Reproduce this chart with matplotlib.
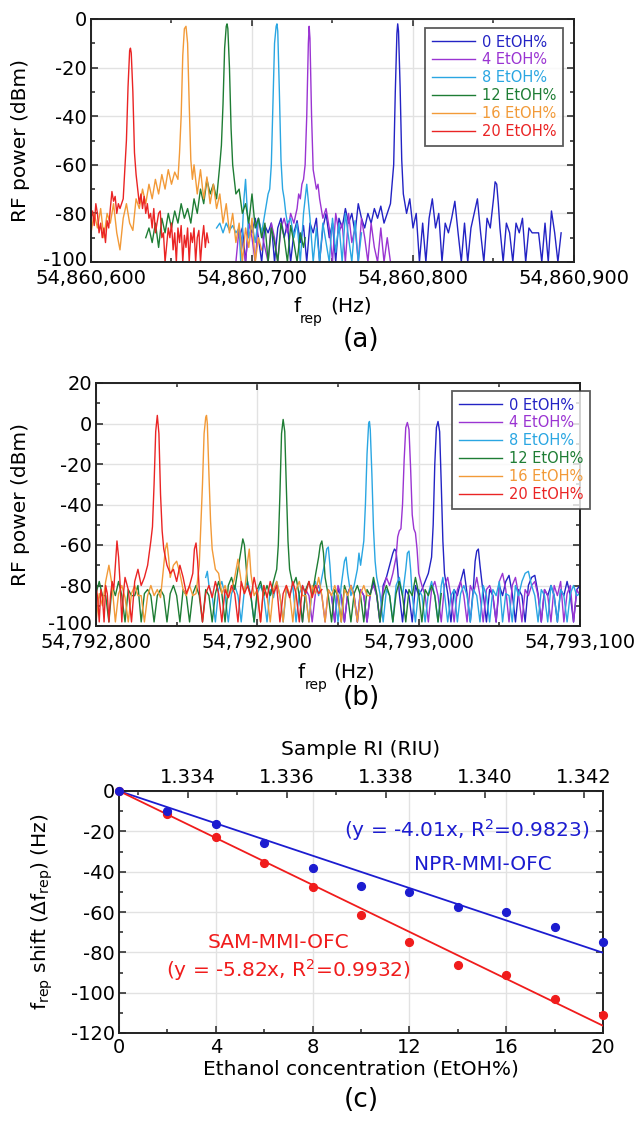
import numpy as np
import matplotlib
matplotlib.use("Agg")
import matplotlib.pyplot as plt
from matplotlib.ticker import FixedLocator, MultipleLocator, FuncFormatter
from matplotlib.transforms import ScaledTranslation

plt.rcParams['font.family'] = ['DejaVu Sans']
plt.rcParams['axes.unicode_minus'] = False
plt.rcParams['mathtext.fontset'] = 'dejavusans'

# ---------------- DATA ----------------
LABELS = ["0 EtOH%", "4 EtOH%", "8 EtOH%", "12 EtOH%", "16 EtOH%", "20 EtOH%"]
COLORS = ["#2323c4", "#9a34d2", "#2aa6e2", "#1e7d34", "#f29a38", "#ea2424"]

# Panel (a): frequency offset from 54,860,000 Hz, RF power in dBm
BASE_A = 54860000
A0_F = [692,694,696,698,700,702,704,706,708,710,712,714,716,718,720,722,724,726,728,730,732,734,736,738,740,742,744,746,748,750,752,754,756,758,760,762,764,766,768,770,772,774,776,778,780,782,784,786,788,789,790,790.5,791,792,793,794,796,798,800,802,804,806,808,810,812,814,816,818,820,822,824,826,828,830,832,834,836,838,840,842,844,846,848,850,851,852,853,854,856,858,860,862,864,866,868,870,872,874,876,878,880,882,884,886,888,890,892]
A0_P = [-90,-86,-100,-84,-88,-82,-90,-100,-85,-88,-84,-100,-86,-82,-90,-84,-100,-88,-83,-92,-85,-100,-84,-88,-82,-100,-86,-80,-90,-84,-100,-82,-86,-78,-84,-80,-88,-76,-82,-86,-80,-84,-78,-82,-77,-84,-80,-76,-60,-30,-6,-2,-5,-28,-58,-72,-80,-74,-86,-80,-100,-84,-100,-82,-74,-86,-80,-100,-84,-88,-82,-75,-88,-100,-84,-100,-86,-80,-74,-88,-100,-82,-86,-74,-67,-68,-76,-86,-100,-84,-88,-100,-84,-88,-82,-100,-86,-88,-88,-88,-100,-84,-100,-79,-88,-100,-88]
A4_F = [690,692,694,696,698,700,702,704,706,708,710,712,714,716,718,720,722,724,726,728,729,730,731,732,733,734,735,735.5,736,737,738,739,740,741,742,744,746,748,750,752,754,756,758,760,762,764,766,768,770,772,774,776,778,780,782,784,786]
A4_P = [-100,-86,-92,-100,-84,-90,-100,-82,-88,-94,-100,-84,-90,-100,-86,-82,-88,-80,-84,-78,-72,-74,-68,-66,-60,-40,-10,-3,-8,-40,-62,-66,-70,-68,-74,-82,-78,-86,-100,-80,-88,-84,-100,-80,-92,-86,-100,-82,-90,-100,-84,-94,-100,-86,-100,-90,-100]
A8_F = [678,680,682,684,686,688,690,692,693,694,695,696,697,698,700,702,704,706,708,709,710,711,712,713,714,715,715.5,716,717,718,719,720,721,722,724,726,728,730,732,734,736,738,740,742,744,746,748,750,752,754,756,758,760,762,764,766,768]
A8_P = [-86,-84,-88,-84,-87,-85,-88,-86,-100,-88,-74,-66,-78,-90,-84,-92,-82,-88,-80,-76,-72,-70,-60,-35,-10,-3,-2,-5,-30,-58,-70,-74,-80,-84,-82,-90,-84,-100,-80,-68,-82,-100,-86,-100,-84,-92,-100,-82,-96,-84,-100,-80,-90,-100,-83,-100,-88]
A12_F = [634,636,638,640,642,644,646,648,650,652,654,656,658,660,662,664,666,668,670,672,674,676,678,680,681,682,683,684,684.5,685,686,687,688,689,690,692,694,696,698,700,702,704,706,708,710,712,714,716,718,720,722,724,726,728,730,732,733]
A12_P = [-90,-86,-92,-84,-94,-82,-88,-80,-86,-79,-84,-76,-82,-78,-84,-74,-80,-70,-76,-66,-72,-68,-74,-60,-52,-35,-12,-3,-2,-4,-20,-45,-60,-66,-72,-70,-80,-76,-84,-72,-86,-82,-90,-84,-100,-86,-92,-100,-84,-90,-100,-85,-92,-100,-88,-94,-90]
A16_F = [600,602,604,606,608,610,612,614,616,618,620,622,624,626,628,630,632,634,636,638,640,642,644,646,648,650,652,654,655,656,657,658,659,660,661,662,663,664,666,668,670,672,674,676,678,680,682,684,686,688,690,692,694,696,698,700,702,704,706]
A16_P = [-88,-80,-86,-78,-90,-80,-84,-76,-88,-95,-82,-76,-84,-87,-74,-78,-70,-76,-68,-74,-66,-72,-64,-70,-62,-68,-63,-66,-55,-40,-15,-4,-3,-10,-35,-58,-66,-60,-72,-62,-74,-65,-76,-68,-78,-72,-84,-76,-88,-80,-92,-84,-100,-86,-94,-82,-100,-90,-95]
A20_F = [600,601,602,603,604,605,606,607,608,609,610,611,612,613,614,615,616,617,618,620,621,622,623,624,624.5,625,626,627,628,629,630,631,632,633,634,635,636,637,638,639,640,641,642,643,644,645,646,647,648,649,650,651,652,653,654,655,656,657,658,659,660,661,662,663,664,665,666,667,668,669,670,671,672,673]
A20_P = [-82,-79,-85,-76,-80,-88,-84,-90,-86,-92,-83,-86,-78,-71,-75,-73,-80,-76,-78,-74,-62,-50,-28,-13,-12,-14,-30,-55,-64,-70,-76,-72,-78,-73,-80,-76,-82,-80,-86,-78,-88,-84,-80,-79,-90,-88,-100,-93,-86,-90,-84,-95,-88,-100,-86,-92,-85,-100,-89,-94,-86,-100,-88,-92,-86,-100,-90,-87,-100,-91,-85,-94,-88,-92]

# Panel (b): frequency offset from 54,792,000 Hz, RF power in dBm
BASE_B = 54792000
B0_F = [946,948,950,952,954,956,958,960,962,964,966,968,970,972,974,976,978,980,982,984,985,986,987,988,990,992,994,996,998,1000,1002,1004,1006,1008,1009,1010,1011,1012,1013,1014,1015,1016,1018,1020,1022,1024,1026,1028,1030,1032,1034,1035,1036,1037,1038,1040,1042,1044,1046,1048,1050,1052,1054,1056,1058,1060,1062,1064,1066,1068,1070,1072,1074,1076,1078,1080,1082,1084,1086,1088,1090,1092,1094,1096,1098,1100]
B0_P = [-85,-98,-82,-85,-98,-84,-80,-85,-98,-82,-85,-98,-84,-78,-85,-98,-80,-76,-70,-64,-62,-63,-72,-84,-98,-82,-85,-98,-80,-85,-82,-78,-74,-66,-50,-20,-2,1,-4,-30,-58,-74,-84,-98,-82,-85,-78,-72,-84,-98,-80,-68,-63,-62,-70,-84,-98,-82,-85,-98,-80,-85,-78,-75,-84,-98,-82,-85,-98,-80,-76,-75,-84,-98,-82,-85,-80,-85,-98,-82,-85,-78,-85,-98,-82,-80]
B4_F = [926,928,930,932,934,936,938,940,942,944,946,948,950,952,954,956,958,960,962,964,966,968,970,972,974,976,978,980,982,984,986,987,988,989,990,991,992,993,994,995,996,997,998,999,1000,1002,1004,1006,1008,1010,1012,1014,1016,1018,1020,1022,1024,1026,1028,1030,1032,1034,1036,1038,1040,1042,1044,1046,1048,1050,1052,1054,1056,1058,1060,1062,1064,1066,1068,1070,1072,1074,1076,1078,1080,1082,1084,1086,1088,1090,1092,1094,1096,1098,1100]
B4_P = [-85,-98,-82,-85,-98,-84,-80,-85,-98,-82,-85,-98,-80,-85,-98,-84,-80,-85,-98,-82,-85,-98,-84,-80,-85,-98,-82,-76,-80,-74,-66,-56,-53,-52,-40,-18,-2,0.5,-3,-22,-45,-52,-54,-62,-74,-80,-85,-98,-82,-78,-85,-98,-80,-76,-85,-98,-82,-78,-85,-98,-80,-84,-76,-85,-98,-82,-80,-85,-98,-78,-74,-82,-98,-80,-76,-85,-98,-82,-85,-80,-78,-85,-98,-82,-85,-98,-80,-85,-78,-98,-84,-80,-98,-82,-85]
B8_F = [868,869,870,872,874,876,878,880,882,884,886,888,890,892,894,896,898,900,902,904,906,908,910,912,914,916,918,920,922,924,926,928,930,932,934,936,938,940,942,943,944,945,946,948,950,952,954,955,956,958,960,962,963,964,966,967,968,969,969.5,970,971,972,973,974,976,978,980,982,984,986,988,990,992,993,994,995,996,998,1000,1002,1004,1006,1008,1010,1012,1014,1015,1016,1018,1020,1022,1024,1026,1028,1030,1032,1034,1036,1038,1040,1042,1044,1046,1048,1050,1052,1054,1056,1058,1060,1062,1064,1066,1068,1070,1072,1074,1076,1078,1080,1082,1084,1086,1088,1090,1092,1094,1096,1098,1100]
B8_P = [-76,-73,-80,-85,-98,-82,-78,-85,-98,-84,-80,-85,-98,-82,-78,-85,-98,-84,-80,-85,-98,-82,-86,-78,-85,-98,-82,-85,-80,-98,-84,-80,-85,-98,-82,-78,-85,-76,-68,-62,-61,-70,-82,-85,-98,-80,-68,-66,-74,-85,-80,-72,-64,-70,-58,-40,-15,0,1,-3,-25,-52,-68,-76,-84,-98,-82,-85,-98,-80,-76,-85,-72,-64,-63,-72,-85,-98,-82,-85,-98,-84,-78,-85,-98,-80,-76,-84,-98,-85,-82,-98,-84,-80,-85,-98,-82,-85,-98,-80,-85,-98,-82,-85,-78,-98,-84,-85,-98,-80,-85,-78,-74,-73,-80,-85,-98,-82,-85,-98,-80,-85,-98,-82,-85,-98,-84,-80,-85,-84]
B12_F = [800,802,804,806,808,810,812,814,816,818,820,822,824,826,828,830,832,834,836,838,840,842,844,846,848,850,852,854,856,858,860,862,864,866,868,870,872,874,876,878,880,882,884,886,888,890,891,892,893,894,896,898,900,902,904,906,908,910,912,913,914,915,916,917,918,919,920,922,924,926,928,930,932,934,936,938,939,940,941,942,944,946,948,950,952,954,956,958,960,962,964,966,968,970,972,974,976,978,980,982,984,986,988,990,992,994,996,998,1000,1002,1004,1006,1008,1010,1012,1014]
B12_P = [-84,-78,-85,-85,-98,-80,-85,-78,-85,-98,-82,-85,-85,-80,-98,-84,-82,-85,-98,-85,-82,-85,-98,-84,-80,-85,-98,-82,-85,-98,-84,-80,-85,-98,-82,-85,-98,-84,-78,-84,-98,-80,-76,-82,-72,-62,-57,-60,-70,-80,-85,-98,-82,-78,-85,-80,-85,-78,-72,-60,-35,-5,2,-4,-32,-58,-72,-80,-76,-85,-98,-82,-78,-85,-75,-66,-60,-58,-64,-76,-85,-98,-82,-85,-98,-80,-85,-98,-84,-80,-85,-98,-82,-85,-76,-84,-98,-85,-80,-85,-98,-84,-78,-85,-98,-82,-85,-76,-84,-98,-82,-85,-80,-85,-98,-84]
B16_F = [800,802,804,806,808,810,812,814,816,818,820,822,824,826,828,830,832,834,836,838,840,842,843,844,845,846,848,850,852,854,856,858,860,862,864,865,866,867,868,868.5,869,870,871,872,874,876,878,880,882,884,886,888,890,892,894,895,896,898,900,902,904,906,908,910,912,914,916,918,920,922,924,926,928,930,932,934,936,938,940,942,944,946,948,950,952,954,956,958,960,962,964,966,968,970]
B16_P = [-98,-84,-90,-78,-70,-80,-98,-84,-80,-86,-98,-84,-80,-85,-85,-98,-85,-80,-85,-82,-86,-70,-62,-59,-66,-76,-70,-68,-74,-82,-85,-80,-85,-84,-70,-50,-30,-5,3,4,0,-25,-48,-62,-72,-74,-84,-80,-86,-82,-76,-67,-78,-84,-68,-62,-74,-85,-82,-98,-80,-85,-98,-82,-78,-85,-98,-80,-84,-98,-82,-78,-85,-85,-98,-80,-84,-76,-85,-98,-82,-85,-80,-85,-98,-82,-85,-80,-86,-98,-84,-80,-85,-85]
B20_F = [800,801,802,803,804,805,806,807,808,809,810,811,812,813,814,815,816,817,818,820,822,824,826,828,830,832,833,834,835,836,837,838,839,840,841,842,843,844,846,848,850,852,854,856,858,860,861,862,863,864,866,868,870,872,874,876,878,880,882,884,886,888,890,892,894,896,898,900,902,904,906,908,910,912,914,916,918,920,922,924,926,928,930,932,934,936,938,940]
B20_P = [-80,-86,-98,-82,-86,-98,-80,-84,-98,-85,-78,-82,-70,-58,-66,-80,-98,-84,-76,-82,-98,-78,-72,-80,-76,-70,-64,-58,-51,-30,-4,4,-5,-35,-53,-62,-66,-70,-74,-72,-78,-70,-76,-84,-80,-74,-62,-59,-68,-82,-98,-84,-80,-86,-78,-84,-98,-82,-86,-80,-84,-98,-78,-84,-80,-86,-76,-84,-98,-80,-86,-78,-84,-80,-98,-84,-80,-86,-78,-84,-98,-80,-84,-78,-86,-80,-84,-82]

A_TRACES = [(A0_F, A0_P), (A4_F, A4_P), (A8_F, A8_P), (A12_F, A12_P), (A16_F, A16_P), (A20_F, A20_P)]
B_TRACES = [(B0_F, B0_P), (B4_F, B4_P), (B8_F, B8_P), (B12_F, B12_P), (B16_F, B16_P), (B20_F, B20_P)]

A_XTICKS = [54860600, 54860700, 54860800, 54860900]
B_XTICKS = [54792800, 54792900, 54793000, 54793100]

# Panel (c)
CONC = [0, 2, 4, 6, 8, 10, 12, 14, 16, 18, 20]
NPR_SHIFT = [0, -10, -16.5, -26, -38, -47, -50, -57.5, -60, -67.5, -75]
SAM_SHIFT = [0, -11.5, -23, -35.5, -47.5, -61.5, -75, -86.5, -91, -103, -111]
NPR_SLOPE = -4.01
SAM_SLOPE = -5.82
FIT_X = [0, 20]
RI_AT_ZERO = 1.33261
RI_PER_PCT = 0.000489
RI_TICKS = [1.334, 1.336, 1.338, 1.340, 1.342]

# ---------------- FIGURE ----------------
W, H = 640, 1126
fig = plt.figure(figsize=(W / 100, H / 100), dpi=100)

def box(l, t, r, b):
    return [l / W, 1 - b / H, (r - l) / W, (b - t) / H]

def ftext(x, y, s, **kw):
    fig.text(x / W, 1 - y / H, s, **kw)

TICK_FS = 14
LAB_FS = 14.5
SPINE_C = "#222222"

def style_axes(ax):
    for sp in ax.spines.values():
        sp.set_linewidth(1.4)
        sp.set_color(SPINE_C)
    ax.tick_params(which='both', direction='in', top=True, right=True,
                   labelsize=TICK_FS, width=1.1, color=SPINE_C)
    ax.tick_params(which='major', length=5)
    ax.tick_params(which='minor', length=3)
    ax.tick_params(axis='x', pad=5)
    ax.tick_params(axis='y', pad=3)
    ax.grid(True, which='major', color='#e2e2e2', lw=1.0)
    ax.set_axisbelow(True)

def nudge_bottom_ylabel(ax, dy_px):
    lab = ax.yaxis.get_major_ticks()[0].label1
    lab.set_transform(lab.get_transform() + ScaledTranslation(0, dy_px / 100, fig.dpi_scale_trans))

def spectrum_panel(rect, base, traces, xticks, ylim, yticks, legend_anchor):
    ax = fig.add_axes(rect)
    for (f, p), c, lab in zip(traces, COLORS, LABELS):
        ax.plot(base + np.array(f), p, color=c, lw=1.0, label=lab)
    ax.set_xlim(xticks[0], xticks[-1])
    ax.set_ylim(*ylim)
    ax.xaxis.set_major_locator(FixedLocator(xticks))
    ax.xaxis.set_minor_locator(MultipleLocator(50))
    ax.xaxis.set_major_formatter(FuncFormatter(lambda v, p: f"{v:,.0f}"))
    ax.yaxis.set_major_locator(FixedLocator(yticks))
    ax.yaxis.set_minor_locator(MultipleLocator(10))
    style_axes(ax)
    nudge_bottom_ylabel(ax, 4)
    leg = ax.legend(loc='upper right', bbox_to_anchor=legend_anchor, fontsize=10.5,
                    frameon=True, fancybox=False, handlelength=3.0,
                    handletextpad=0.45, labelspacing=0.2, borderpad=0.45,
                    borderaxespad=0)
    leg.get_frame().set_edgecolor('#333333')
    leg.get_frame().set_linewidth(1.3)
    for t, c in zip(leg.get_texts(), COLORS):
        t.set_color(c)
    ax.set_ylabel("RF power (dBm)", fontsize=LAB_FS)
    return ax

# Panel (a)
axa = spectrum_panel(box(91, 19, 574, 262), BASE_A, A_TRACES, A_XTICKS, (-100, 0),
                     [-100, -80, -60, -40, -20, 0], (0.977, 0.963))
axa.yaxis.set_label_coords(-(91 - 30) / 483, 0.5)
ftext(293, 312, "f", fontsize=LAB_FS, ha='left', va='baseline')
ftext(300, 323, "rep", fontsize=10, ha='left', va='baseline')
ftext(330, 312, "(Hz)", fontsize=LAB_FS, ha='left', va='baseline')
ftext(361, 340, "(a)", fontsize=19, ha='center', va='center')

# Panel (b)
axb = spectrum_panel(box(96, 383, 580, 626), BASE_B, B_TRACES, B_XTICKS, (-100, 20),
                     [-100, -80, -60, -40, -20, 0, 20], (1.0207, 0.967))
axb.yaxis.set_label_coords(-(96 - 30) / 484, 0.5)
ftext(298, 678, "f", fontsize=LAB_FS, ha='left', va='baseline')
ftext(305, 689, "rep", fontsize=10, ha='left', va='baseline')
ftext(333, 678, "(Hz)", fontsize=LAB_FS, ha='left', va='baseline')
ftext(361, 698, "(b)", fontsize=19, ha='center', va='center')

# Panel (c)
axc = fig.add_axes(box(119, 791, 603, 1033))
xs = np.array(FIT_X)
axc.plot(xs, NPR_SLOPE * xs, color='#1c1cd0', lw=1.3, zorder=3)
axc.plot(xs, SAM_SLOPE * xs, color='#f01c1c', lw=1.3, zorder=3)
axc.plot(CONC, SAM_SHIFT, 'o', color='#f01c1c', ms=5.6, zorder=4, clip_on=False)
axc.plot(CONC, NPR_SHIFT, 'o', color='#1c1cd0', ms=5.6, zorder=5, clip_on=False)
axc.set_xlim(0, 20)
axc.set_ylim(-120, 0)
axc.xaxis.set_major_locator(MultipleLocator(4))
axc.xaxis.set_minor_locator(MultipleLocator(2))
axc.yaxis.set_major_locator(MultipleLocator(20))
axc.yaxis.set_minor_locator(MultipleLocator(10))
style_axes(axc)
axc.tick_params(axis='x', pad=3.5)
axc.tick_params(top=False, which='both')
axc.set_xlabel("Ethanol concentration (EtOH%)", fontsize=LAB_FS, labelpad=2)

secx = axc.secondary_xaxis('top', functions=(lambda c: RI_AT_ZERO + RI_PER_PCT * c,
                                              lambda r: (r - RI_AT_ZERO) / RI_PER_PCT))
secx.xaxis.set_major_locator(FixedLocator(RI_TICKS))
secx.xaxis.set_minor_locator(MultipleLocator(0.001))
secx.xaxis.set_major_formatter(FuncFormatter(lambda v, p: f"{v:.3f}"))
secx.tick_params(which='both', direction='in', labelsize=TICK_FS, width=1.1, color=SPINE_C, pad=3)
secx.tick_params(which='major', length=5)
secx.tick_params(which='minor', length=3)
secx.spines['top'].set_linewidth(1.4)
secx.set_xlabel("Sample RI (RIU)", fontsize=LAB_FS, labelpad=9)

ftext(42, 912, r"f$_{\mathrm{rep}}$ shift ($\Delta$f$_{\mathrm{rep}}$) (Hz)", fontsize=LAB_FS,
      rotation=90, ha='center', va='center')
ftext(589, 830, r"(y = -4.01x, R$^2$=0.9823)", fontsize=14.5, color='#1c1cd0', ha='right', va='center')
ftext(552, 865, "NPR-MMI-OFC", fontsize=14.5, color='#1c1cd0', ha='right', va='center')
ftext(208, 942, "SAM-MMI-OFC", fontsize=14.5, color='#f01c1c', ha='left', va='center')
ftext(166, 970, r"(y = -5.82x, R$^2$=0.9932)", fontsize=14.5, color='#f01c1c', ha='left', va='center')
ftext(361, 1100, "(c)", fontsize=19, ha='center', va='center')

fig.savefig("out.png", dpi=100)
